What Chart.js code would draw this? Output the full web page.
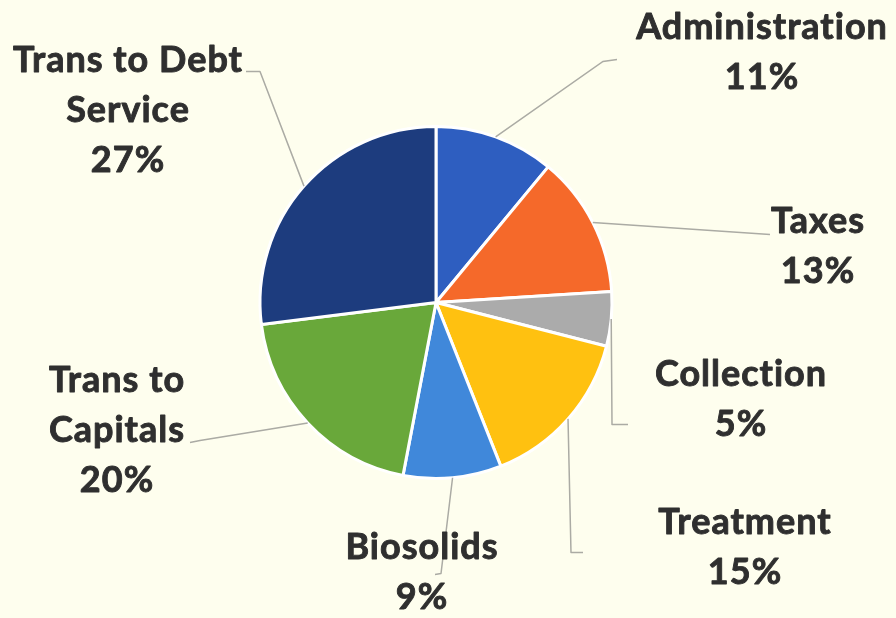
<!DOCTYPE html>
<html>
<head>
<meta charset="utf-8">
<script src="https://cdn.jsdelivr.net/npm/chart.js@4.4.1/dist/chart.umd.min.js"></script>
<style>
  html, body { margin: 0; padding: 0; background: #FEFEEE; }
  #wrap { width: 896px; height: 618px; }
</style>
</head>
<body>
<div id="wrap"><canvas id="chart_budgetPie" width="896" height="618"></canvas></div>
<script>
// data
const categories = ['Administration', 'Taxes', 'Collection', 'Treatment', 'Biosolids', 'Trans to Capitals', 'Trans to Debt Service'];
const shares = [11, 13, 5, 15, 9, 20, 27];
const labelLines = [['Administration'], ['Taxes'], ['Collection'], ['Treatment'], ['Biosolids'], ['Trans to', 'Capitals'], ['Trans to Debt', 'Service']];
const sliceColors = ['#2E5EC0', '#F5692A', '#ABABAB', '#FFC110', '#4088DA', '#69A83A', '#1D3C7E'];

// label layout, relative to pie centre (px)
const labelAt = [
    {x: 326, y: -250}, {x: 382, y: -56}, {x: 305, y: 97}, {x: 309, y: 245},
    {x: -14, y: 270}, {x: -319, y: 128}, {x: -308, y: -192}
];
// leader elbow + end, relative to pie centre (px)
const leaderAt = [
    [{x: 167, y: -241}, {x: 181, y: -243}],
    [{x: 334, y: -68}, {x: 334, y: -68}],
    [{x: 176, y: 122}, {x: 192, y: 122}],
    [{x: 135, y: 250}, {x: 147, y: 250}],
    [{x: 5, y: 271}, {x: -1, y: 272}],
    [{x: -236, y: 138}, {x: -246, y: 140}],
    [{x: -176, y: -231}, {x: -190, y: -231}]
];

const LINE_H = 50;
const FONT = 'bold 36px Lato, "Open Sans", sans-serif';

var chart_budgetPie = new Chart(document.getElementById('chart_budgetPie'), {
    type: 'pie',
    data: {
        labels: categories,
        datasets: [{
            data: shares,
            backgroundColor: sliceColors,
            borderColor: '#FFFFFF',
            borderWidth: 3,
            hoverOffset: 0
        }]
    },
    options: {
        animation: false,
        responsive: false,
        events: [],
        layout: {
            padding: {left: 258, right: 282, top: 125, bottom: 138}
        },
        plugins: {
            legend: {display: false},
            tooltip: {enabled: false}
        }
    },
    plugins: [{
        id: 'outsideLabels',
        afterDraw: (chart) => {
            const ctx = chart.ctx;
            const arcs = chart.getDatasetMeta(0).data;
            ctx.save();
            arcs.forEach((arc, i) => {
                const cx = arc.x, cy = arc.y;
                const mid = (arc.startAngle + arc.endAngle) / 2;
                const r = arc.outerRadius;
                // leader line
                ctx.strokeStyle = '#ABABA4';
                ctx.lineWidth = 1.5;
                ctx.beginPath();
                ctx.moveTo(cx + Math.cos(mid) * r, cy + Math.sin(mid) * r);
                ctx.lineTo(cx + leaderAt[i][0].x, cy + leaderAt[i][0].y);
                ctx.lineTo(cx + leaderAt[i][1].x, cy + leaderAt[i][1].y);
                ctx.stroke();
                // text (thin stroke to match the heavier scanned weight)
                const lines = labelLines[i].concat([shares[i] + '%']);
                ctx.font = FONT;
                ctx.letterSpacing = '1px';
                ctx.fillStyle = '#2F2F2F';
                ctx.strokeStyle = '#2F2F2F';
                ctx.lineWidth = 0.9;
                ctx.lineJoin = 'round';
                ctx.textAlign = 'center';
                ctx.textBaseline = 'middle';
                const top = cy + labelAt[i].y - (lines.length - 1) * LINE_H / 2;
                lines.forEach((t, k) => {
                    ctx.fillText(t, cx + labelAt[i].x, top + k * LINE_H);
                    ctx.strokeText(t, cx + labelAt[i].x, top + k * LINE_H);
                });
            });
            ctx.restore();
        }
    }]
});
</script>
</body>
</html>
